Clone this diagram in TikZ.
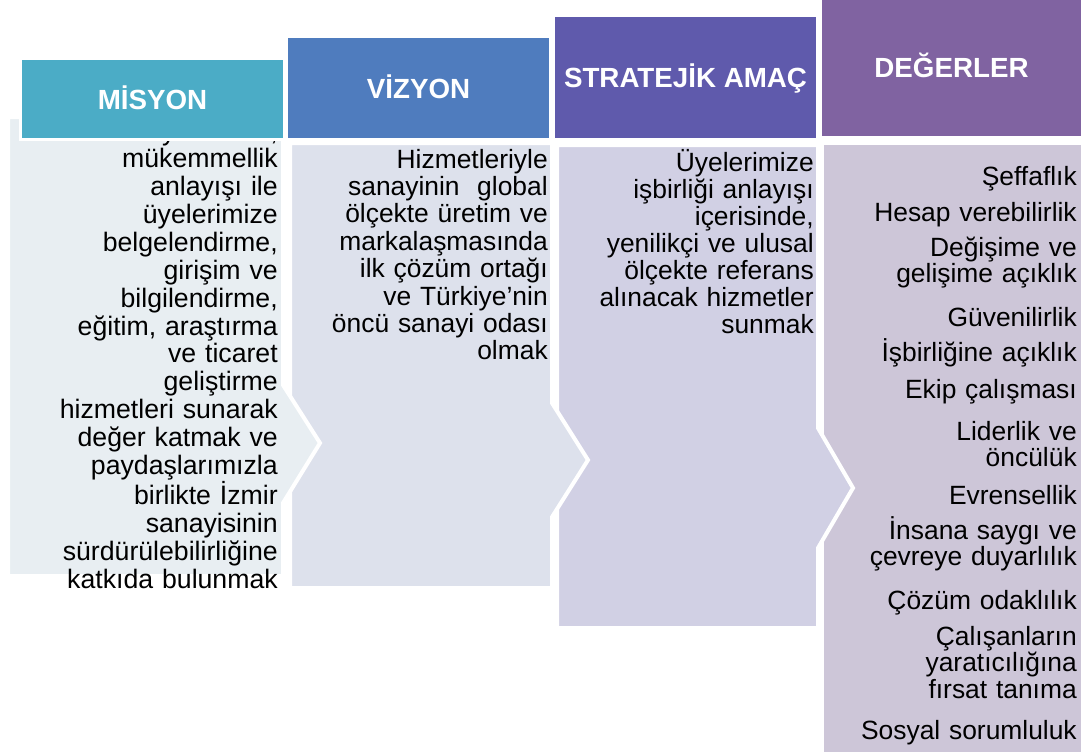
\documentclass[tikz,border=0pt]{standalone}
\usepackage{fontspec}
\setmainfont{Liberation Sans}
\definecolor{misyonhead}{RGB}{75,172,198}
\definecolor{misyonbox}{RGB}{232,238,242}
\definecolor{vizyonhead}{RGB}{79,124,190}
\definecolor{vizyonbox}{RGB}{221,225,236}
\definecolor{amachead}{RGB}{95,90,172}
\definecolor{amacbox}{RGB}{209,208,228}
\definecolor{degerhead}{RGB}{128,99,161}
\definecolor{degerbox}{RGB}{205,198,216}
\begin{document}
\begin{tikzpicture}[
		x=0.75pt, y=-0.75pt,
		header/.style={rectangle, draw=white, line width=2.25pt, text=white,
			font=\fontsize{20.8}{25}\selectfont\bfseries, align=center,
			text height=15pt, text depth=0pt, minimum width=198pt, inner sep=0pt},
		panel/.style={draw=white, line width=3pt, line join=miter},
		ptext/.style={inner sep=0pt, anchor=base east, text width=210pt, align=right,
			font=\fontsize{20}{20.9}\selectfont},
		vtext/.style={inner sep=0pt, anchor=base east, text width=210pt, align=right,
			font=\fontsize{19.8}{19.9}\selectfont}
	]
		\useasboundingbox (0,0) rectangle (1081,751);
		\clip (0,0) rectangle (1081,751);
		% gövdeler: sağdan sola, her okun ucu bir sonrakinin üstüne biner
		\draw[panel, fill=degerbox] (822,143) -- (1090,143) -- (1090,760) -- (822,760) -- cycle;
		\draw[panel, fill=amacbox] (557,145) -- (818,145) -- (818,428) -- (853,488) -- (818,548) -- (818,628) -- (557,628) -- cycle;
		\draw[panel, fill=vizyonbox] (290,143) -- (552,143) -- (552,403) -- (588,460) -- (552,517) -- (552,588) -- (290,588) -- cycle;
		\draw[panel, fill=misyonbox] (8,117) -- (283,117) -- (283,385) -- (320,443) -- (283,503) -- (283,576) -- (8,576) -- cycle;
		% metinler
		\node[ptext] (tMis) at (278,140) {Misyonumuz,\\mükemmellik\\anlayışı ile\\üyelerimize\\belgelendirme,\\girişim ve\\bilgilendirme,\\eğitim, araştırma\\ve ticaret\\geliştirme\\hizmetleri sunarak\\değer katmak ve\\paydaşlarımızla\\birlikte İzmir\\sanayisinin\\sürdürülebilirliğine\\katkıda bulunmak};
		\node[ptext, font=\fontsize{19.8}{20.55}\selectfont] (tViz) at (548,168) {Hizmetleriyle\\sanayinin\ \ global\\ölçekte üretim ve\\markalaşmasında\\ilk çözüm ortağı\\ve Türkiye’nin\\öncü sanayi odası\\olmak};
		\node[ptext, font=\fontsize{19.8}{20.25}\selectfont] (tAmac) at (814,171) {Üyelerimize\\işbirliği anlayışı\\içerisinde,\\yenilikçi ve ulusal\\ölçekte referans\\alınacak hizmetler\\sunmak};
		% değerler
		\node[vtext] (v1) at (1077,185) {Şeffaflık};
		\node[vtext] (v2) at (1077,221) {Hesap verebilirlik};
		\node[vtext] (v3) at (1077,256) {Değişime ve\\gelişime açıklık};
		\node[vtext] (v4) at (1077,326) {Güvenilirlik};
		\node[vtext] (v5) at (1077,361) {İşbirliğine açıklık};
		\node[vtext] (v6) at (1077,398) {Ekip çalışması};
		\node[vtext] (v7) at (1077,440) {Liderlik ve\\öncülük};
		\node[vtext] (v8) at (1077,504) {Evrensellik};
		\node[vtext] (v9) at (1077,539) {İnsana saygı ve\\çevreye duyarlılık};
		\node[vtext] (v10) at (1077,609) {Çözüm odaklılık};
		\node[vtext] (v11) at (1077,645) {Çalışanların\\yaratıcılığına\\fırsat tanıma};
		\node[vtext] (v12) at (1077,739) {Sosyal sorumluluk};
		% başlıklar
		\node[header, fill=misyonhead, minimum height=60.75pt] (hMis) at (152.5,99) {MİSYON};
		\node[header, fill=vizyonhead, minimum height=77.25pt] (hViz) at (418.5,88) {VİZYON};
		\node[header, fill=amachead, minimum height=93pt] (hAmac) at (685.5,77.5) {STRATEJİK AMAÇ};
		\node[header, fill=degerhead, minimum height=105.75pt, minimum width=196.5pt] (hDeg) at (951.5,67) {DEĞERLER};
	\end{tikzpicture}
\end{document}
